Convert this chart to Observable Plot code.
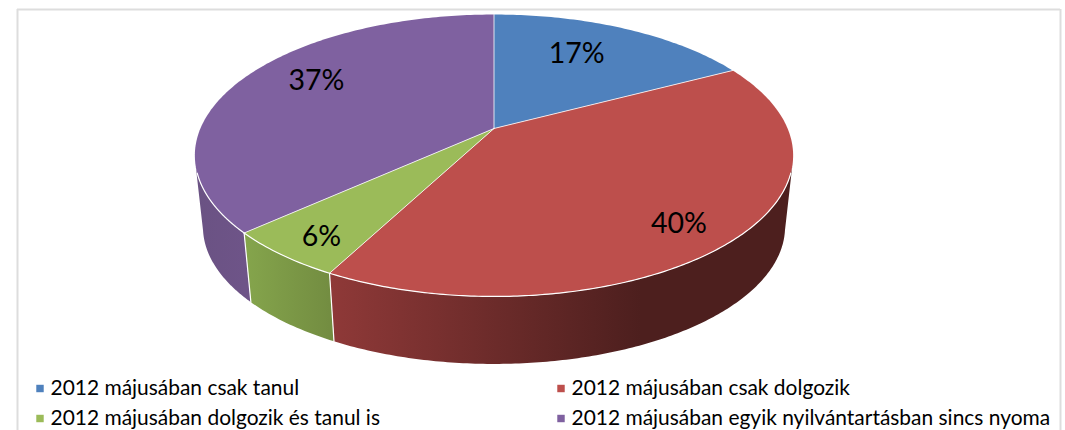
<!DOCTYPE html>
<html>
<head>
<meta charset="utf-8">
<script src="https://cdn.jsdelivr.net/npm/d3@7"></script>
<script src="https://cdn.jsdelivr.net/npm/@observablehq/plot@0.6"></script>
<style>
html,body{margin:0;padding:0;background:#fff;overflow:hidden}
</style>
</head>
<body>
<div id="chart"></div>
<script>
// ---- data ----
const categories = [
  "2012 májusában csak tanul",
  "2012 májusában csak dolgozik",
  "2012 májusában dolgozik és tanul is",
  "2012 májusában egyik nyilvántartásban sincs nyoma"
];
const shares = [17.3, 40.4, 5.6, 36.7];
const faceColors = ["#4f81bd", "#bd4f4c", "#9bbb59", "#7f61a0"];
// wall shading: left-to-right colour stops per slice
const wallShade = [
  ["#3b6190", "#3b6190"],
  ["#8f3938", "#4d1f1e"],
  ["#85a54c", "#738d41"],
  ["#6a5283", "#6e5488"]
];
const labelTurns = [0.075, 0.384, 0.6014, 0.834];
const labelRadii = [0.694, 0.833, 0.858, 0.751];

// ---- pie perspective layout ----
const W = 1065, H = 430;
const apex = [493.5, 128], base = [493.5, 200], baseScale = 0.973;
const K = 293.6, M = 135.8, A = 0.1915;
function project(turn, layer, r = 1) {
  const t = turn * 2 * Math.PI, u = r * Math.sin(t), v = -r * Math.cos(t);
  const d = 1 - A * v;
  const o = layer === 0 ? apex : base, s = layer === 0 ? 1 : baseScale;
  return [o[0] + s * K * u / d, o[1] + s * M * v / d];
}
const total = d3.sum(shares);
const cum = d3.cumsum(shares).map(d => d / total);
const starts = [0, ...cum.slice(0, -1)];

const faces = [], walls = [], wallEdges = [], rimEdges = [], spokes = [], gradients = [];
categories.forEach((c, i) => {
  const a0 = starts[i], a1 = cum[i], n = Math.ceil((a1 - a0) * 400);
  const at = (lo, hi, j, m) => lo + (hi - lo) * j / m;
  // top face
  faces.push({id: i, px: apex[0], py: apex[1], color: faceColors[i]});
  d3.range(n + 1).forEach(j => {
    const [px, py] = project(at(a0, a1, j, n), 0);
    faces.push({id: i, px, py, color: faceColors[i]});
  });
  // wall: only the part facing the viewer
  const w0 = Math.max(a0, 0.285), w1 = Math.min(a1, 0.715);
  if (w1 > w0) {
    const fill = `url(#wall${i})`;
    const upper = d3.range(n + 1).map(j => project(at(w0, w1, j, n), 0));
    const lower = d3.range(n + 1).map(j => project(at(w0, w1, n - j, n), 1));
    [...upper, ...lower].forEach(p => walls.push({id: i, px: p[0], py: p[1], color: fill}));
    const xs = upper.map(p => p[0]);
    gradients.push({id: `wall${i}`, x0: d3.min(xs), x1: i === 1 ? 640 : d3.max(xs), stops: wallShade[i]});
  }
  // white rim along the front, and spokes
  const r0 = Math.max(a0, 0.30), r1 = Math.min(a1, 0.70);
  if (r1 > r0) d3.range(n + 1).forEach(j => {
    const [px, py] = project(at(r0, r1, j, n), 0);
    rimEdges.push({id: i, px, py});
  });
  const sp = project(a0, 0);
  spokes.push({id: i, px: apex[0], py: apex[1]}, {id: i, px: sp[0], py: sp[1]});
  // wall separators at slice boundaries on the front
  if (a0 > 0.25 && a0 < 0.75) {
    const q0 = project(a0, 0), q1 = project(a0, 1);
    wallEdges.push({id: i, px: q0[0], py: q0[1]}, {id: i, px: q1[0], py: q1[1]});
  }
});

const labels = shares.map((s, i) => {
  const [px, py] = project(labelTurns[i], 0, labelRadii[i]);
  return {px, py, text: d3.format(".0f")(s) + "%"};
});

const legendCols = [36, 557];
const legendRows = [388, 418];
const legend = categories.map((c, i) => ({
  c, color: faceColors[i],
  px: legendCols[i % 2], py: legendRows[Math.floor(i / 2)]
}));

// gradient definitions used by the wall fills
function wallDefs() {
  const defs = d3.create("svg:defs");
  gradients.forEach(g => {
    const lg = defs.append("linearGradient").attr("id", g.id)
      .attr("gradientUnits", "userSpaceOnUse")
      .attr("x1", g.x0).attr("x2", g.x1).attr("y1", 0).attr("y2", 0);
    lg.append("stop").attr("offset", 0).attr("stop-color", g.stops[0]);
    lg.append("stop").attr("offset", 1).attr("stop-color", g.stops[1]);
  });
  return defs.node();
}

const chart = Plot.plot({
  width: W, height: H,
  margin: 0,
  x: {domain: [0, W], range: [0, W], axis: null},
  y: {domain: [0, H], range: [0, H], axis: null},
  color: {type: "identity"},
  style: {background: "#fff", fontFamily: "Lato, sans-serif"},
  marks: [
    wallDefs,
    Plot.ruleX([17, 1060], {y1: 9, y2: H, stroke: "#dddddd", strokeWidth: 2}),
    Plot.ruleY([9], {x1: 17, x2: 1060, stroke: "#dddddd", strokeWidth: 2}),
    Plot.line(walls, {x: "px", y: "py", z: "id", fill: "color", stroke: "none", curve: "linear-closed"}),
    Plot.line(wallEdges, {x: "px", y: "py", z: "id", stroke: "#fff", strokeWidth: 1.2}),
    Plot.line(faces, {x: "px", y: "py", z: "id", fill: "color", stroke: "none", curve: "linear-closed"}),
    Plot.line(rimEdges, {x: "px", y: "py", z: "id", stroke: "#fff", strokeWidth: 1.2}),
    Plot.line(spokes, {x: "px", y: "py", z: "id", stroke: "#fff", strokeWidth: 1, strokeOpacity: 0.8}),
    Plot.text(labels, {x: "px", y: "py", text: "text", fontSize: 28.5, fill: "#000"}),
    Plot.dot(legend, {x: d => d.px + 3.5, y: "py", symbol: "square", r: 4.2, fill: "color", stroke: "none"}),
    Plot.text(legend, {x: d => d.px + 14, y: "py", text: "c", textAnchor: "start", fontSize: 20.95, fill: "#000"})
  ]
});
document.getElementById("chart").appendChild(chart);
</script>
</body>
</html>
